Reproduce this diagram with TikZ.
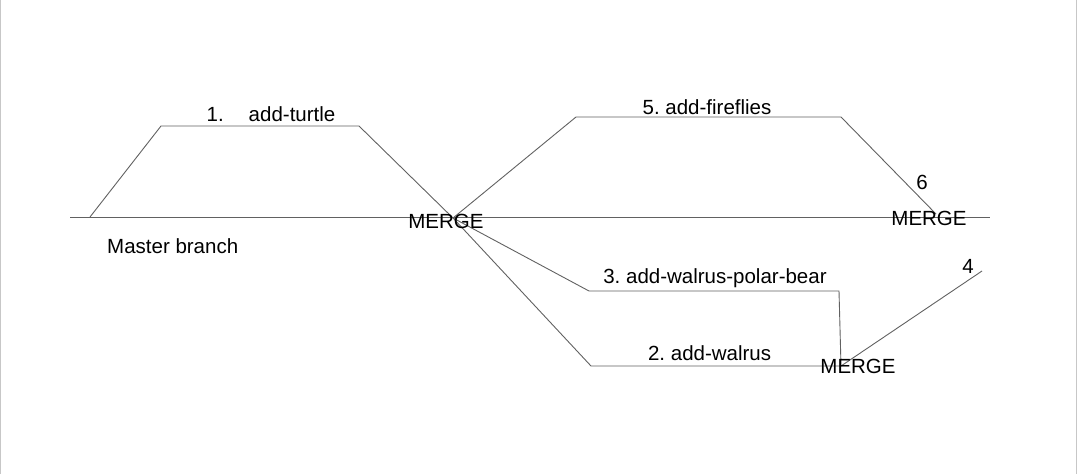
\documentclass[tikz,border=0pt]{standalone}
\usepackage{fontspec}
\setmainfont{Liberation Sans}
\frenchspacing
\begin{document}
\begin{tikzpicture}[x=1pt,y=-1pt,
  branch/.style={draw=black!62,line width=0.9pt},
  lbl/.style={inner sep=0pt,anchor=base,font=\fontsize{20.5}{24}\selectfont}]
\useasboundingbox (0,0) rectangle (1078,474);
\draw[black!22,line width=1.2pt] (0.6,0)--(0.6,474);
\draw[black!22,line width=1.2pt] (1076.4,0)--(1076.4,474);

\coordinate (ms) at (70,217);
\coordinate (me) at (990,217);
\coordinate (t0) at (90,217);
\coordinate (t1) at (161,126);
\coordinate (t2) at (359,126);
\coordinate (m1) at (453,218);
\coordinate (f1) at (576,117);
\coordinate (f2) at (841,117);
\coordinate (m2) at (936,214);
\coordinate (p1) at (589,291);
\coordinate (p2) at (839,291);
\coordinate (m3) at (841,366);
\coordinate (w1) at (591,366);
\coordinate (e4) at (982,271);

\draw[branch] (ms)--(me);
\draw[branch] (t0)--(t1)--(t2)--(m1);
\draw[branch] (m1)--(f1)--(f2)--(m2);
\draw[branch] (m1)--(p1)--(p2)--(m3);
\draw[branch] (m1)--(w1)--(m3);
\draw[branch] (m3)--(e4);

\node[lbl] (turtle) at (271,121.5) {1.\hspace{25pt}add-turtle};
\node[lbl] (master) at (172.7,253) {Master branch};
\node[lbl] (merge1) at (446,228.5) {MERGE};
\node[lbl] (fireflies) at (707,114) {5. add-fireflies};
\node[lbl] (six) at (922,189.3) {6};
\node[lbl] (merge2) at (929,225) {MERGE};
\node[lbl] (polar) at (715,283.3) {3. add-walrus-polar-bear};
\node[lbl] (walrus) at (709.6,360) {2. add-walrus};
\node[lbl] (four) at (968,273) {4};
\node[lbl] (merge3) at (858,373) {MERGE};
\end{tikzpicture}
\end{document}
